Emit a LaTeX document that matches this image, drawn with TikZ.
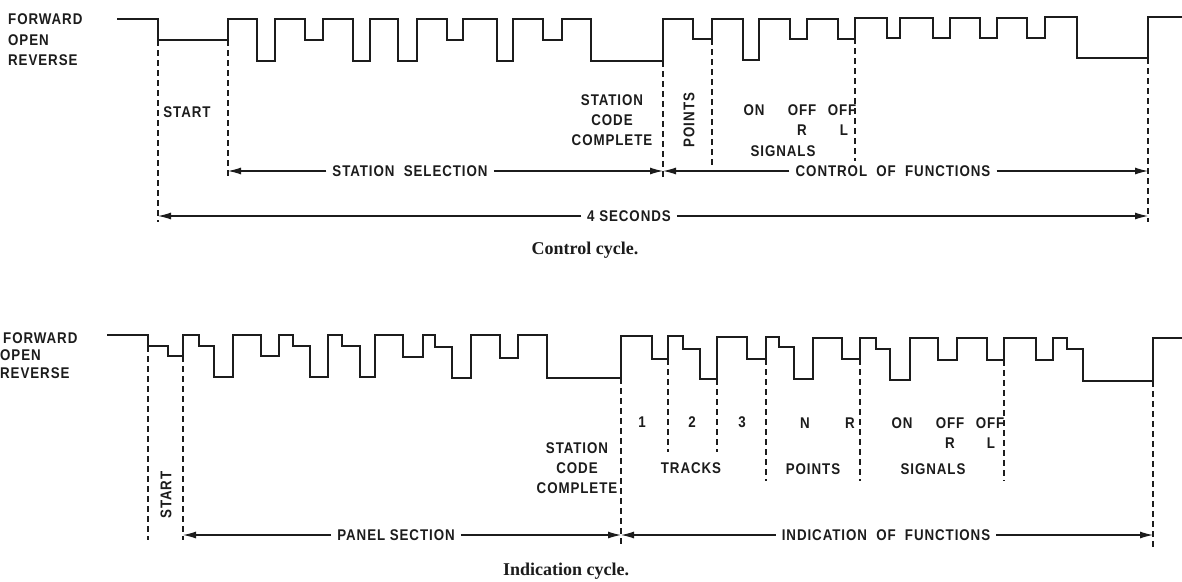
\documentclass[tikz,border=0pt]{standalone}
\usepackage{fontspec}
\setmainfont{Liberation Serif}
\newfontfamily\lblfont{Liberation Sans}[FakeStretch=0.86,LetterSpace=6]
\usetikzlibrary{arrows.meta}
\definecolor{inkdark}{HTML}{1C1C1C}

\begin{document}
\begin{tikzpicture}[x=1pt,y=-1pt,
  lbl/.style={font=\lblfont\bfseries\fontsize{15.5}{20}\selectfont,text=inkdark,inner sep=0pt,align=center},
  dimtext/.style={lbl,fill=white,inner xsep=6pt,inner ysep=2pt},
  capt/.style={font=\bfseries\fontsize{18}{20}\selectfont,text=inkdark},
  wave/.style={draw=inkdark,line width=1.6pt},
  guide/.style={draw=inkdark,line width=1.1pt,dash pattern=on 6pt off 4pt},
  dimline/.style={draw=inkdark,line width=1.1pt,-{Latex[length=13pt,width=7pt]}}]
\path[fill=white,use as bounding box] (0,0) rectangle (1182,581);

\node[lbl,anchor=west] (fwd1) at (8,19) {FORWARD};
\node[lbl,anchor=west] (open1) at (8,40) {OPEN};
\node[lbl,anchor=west] (rev1) at (8,60) {REVERSE};
\draw[wave] (117,19) -| (158,40) -| (228,19) -| (257,61) -| (275,19) -| (305,40) -| (323,19) -| (353,61) -| (370,19)
  -| (398,61) -| (417,19) -| (447,40) -| (463,19) -| (497,61) -| (513,19) -| (543,40) -| (562,19) -| (591,61) -| (663,19)
  -| (693,39) -| (712,19) -| (743,60) -| (759,19) -| (790,39) -| (807,19) -| (838,39) -| (855,18) -| (887,38) -| (900,18)
  -| (933,38) -| (950,18) -| (980,38) -| (997,18) -| (1027,38) -| (1045,17) -| (1077,58) -| (1148,17) -- (1182,17);
\draw[guide] (158,40) -- (158,222);
\draw[guide] (228,40) -- (228,178);
\draw[guide] (663,61) -- (663,178);
\draw[guide] (712,39) -- (712,165);
\draw[guide] (855,38) -- (855,161);
\draw[guide] (1148,58) -- (1148,222);
\node[lbl] (start1) at (187,112) {START};
\node[lbl] (scc1) at (612,120) {STATION\\CODE\\COMPLETE};
\node[lbl,rotate=90] (pts1) at (689,120) {POINTS};
\node[lbl] (on1) at (754,110) {ON};
\node[lbl] (off1) at (802,110) {OFF};
\node[lbl] (off2) at (842,110) {OFF};
\node[lbl] (rr1) at (802,130) {R};
\node[lbl] (ll1) at (844,130) {L};
\node[lbl] (sig1) at (783,151) {SIGNALS};
\coordinate (selL) at (228,171);
\coordinate (selR) at (663,171);
\coordinate (secL) at (158,216);
\coordinate (secR) at (1148,216);
\node[dimtext] (sel1) at (410,171) {STATION~~SELECTION};
\node[dimtext] (ctl1) at (893,171) {CONTROL~~OF~~FUNCTIONS};
\node[dimtext] (secs) at (629,216) {4 SECONDS};
\draw[dimline] (sel1.west) -- (selL);
\draw[dimline] (sel1.east) -- (selR);
\draw[dimline] (ctl1.west) -- (selR);
\draw[dimline] (ctl1.east) -- (1148,171);
\draw[dimline] (secs.west) -- (secL);
\draw[dimline] (secs.east) -- (secR);
\node[capt] (cap1) at (585,250) {Control cycle.};

\node[lbl,anchor=west] (fwd2) at (3,338) {FORWARD};
\node[lbl,anchor=west] (open2) at (0,355) {OPEN};
\node[lbl,anchor=west] (rev2) at (0,373) {REVERSE};
\draw[wave] (107,335) -| (148,346) -| (168,356) -| (183,335) -| (199,346) -| (214,377) -| (233,335) -| (261,356) -| (279,335)
  -| (293,346) -| (310,377) -| (328,335) -| (342,346) -| (360,377) -| (375,335) -| (403,357) -| (423,335) -| (435,347)
  -| (452,378) -| (471,335) -| (500,358) -| (518,335) -| (547,378) -| (621,336) -| (652,359) -| (668,336) -| (683,349)
  -| (700,379) -| (717,337) -| (747,359) -| (766,337) -| (779,347) -| (794,379) -| (813,338) -| (842,359) -| (860,338)
  -| (876,349) -| (890,380) -| (910,338) -| (938,360) -| (957,338) -| (987,360) -| (1004,338) -| (1036,360) -| (1053,338)
  -| (1067,349) -| (1083,381) -| (1153,338) -- (1182,338);
\draw[guide] (148,346) -- (148,540);
\draw[guide] (183,356) -- (183,540);
\draw[guide] (621,378) -- (621,546);
\draw[guide] (668,359) -- (668,452);
\draw[guide] (717,379) -- (717,452);
\draw[guide] (766,359) -- (766,481);
\draw[guide] (860,359) -- (860,481);
\draw[guide] (1004,360) -- (1004,481);
\draw[guide] (1153,381) -- (1153,548);
\node[lbl,rotate=90] (start2) at (166,495) {START};
\node[lbl] (scc2) at (577,468) {STATION\\CODE\\COMPLETE};
\node[lbl] (tk1) at (642,422) {1};
\node[lbl] (tk2) at (692,422) {2};
\node[lbl] (tk3) at (742,422) {3};
\node[lbl] (pn) at (805,423) {N};
\node[lbl] (pr) at (850,423) {R};
\node[lbl] (on2) at (902,423) {ON};
\node[lbl] (off3) at (950,423) {OFF};
\node[lbl] (off4) at (990,423) {OFF};
\node[lbl] (rr2) at (950,443) {R};
\node[lbl] (ll2) at (991,443) {L};
\node[lbl] (trk) at (691,468) {TRACKS};
\node[lbl] (pts2) at (813,469) {POINTS};
\node[lbl] (sig2) at (933,469) {SIGNALS};
\coordinate (panL) at (183,535);
\coordinate (panR) at (621,535);
\coordinate (indR) at (1153,535);
\node[dimtext] (pan) at (396,535) {PANEL SECTION};
\node[dimtext] (ind) at (886,535) {INDICATION~~OF~~FUNCTIONS};
\draw[dimline] (pan.west) -- (panL);
\draw[dimline] (pan.east) -- (panR);
\draw[dimline] (ind.west) -- (panR);
\draw[dimline] (ind.east) -- (indR);
\node[capt] (cap2) at (566,571) {Indication cycle.};
\end{tikzpicture}
\end{document}
